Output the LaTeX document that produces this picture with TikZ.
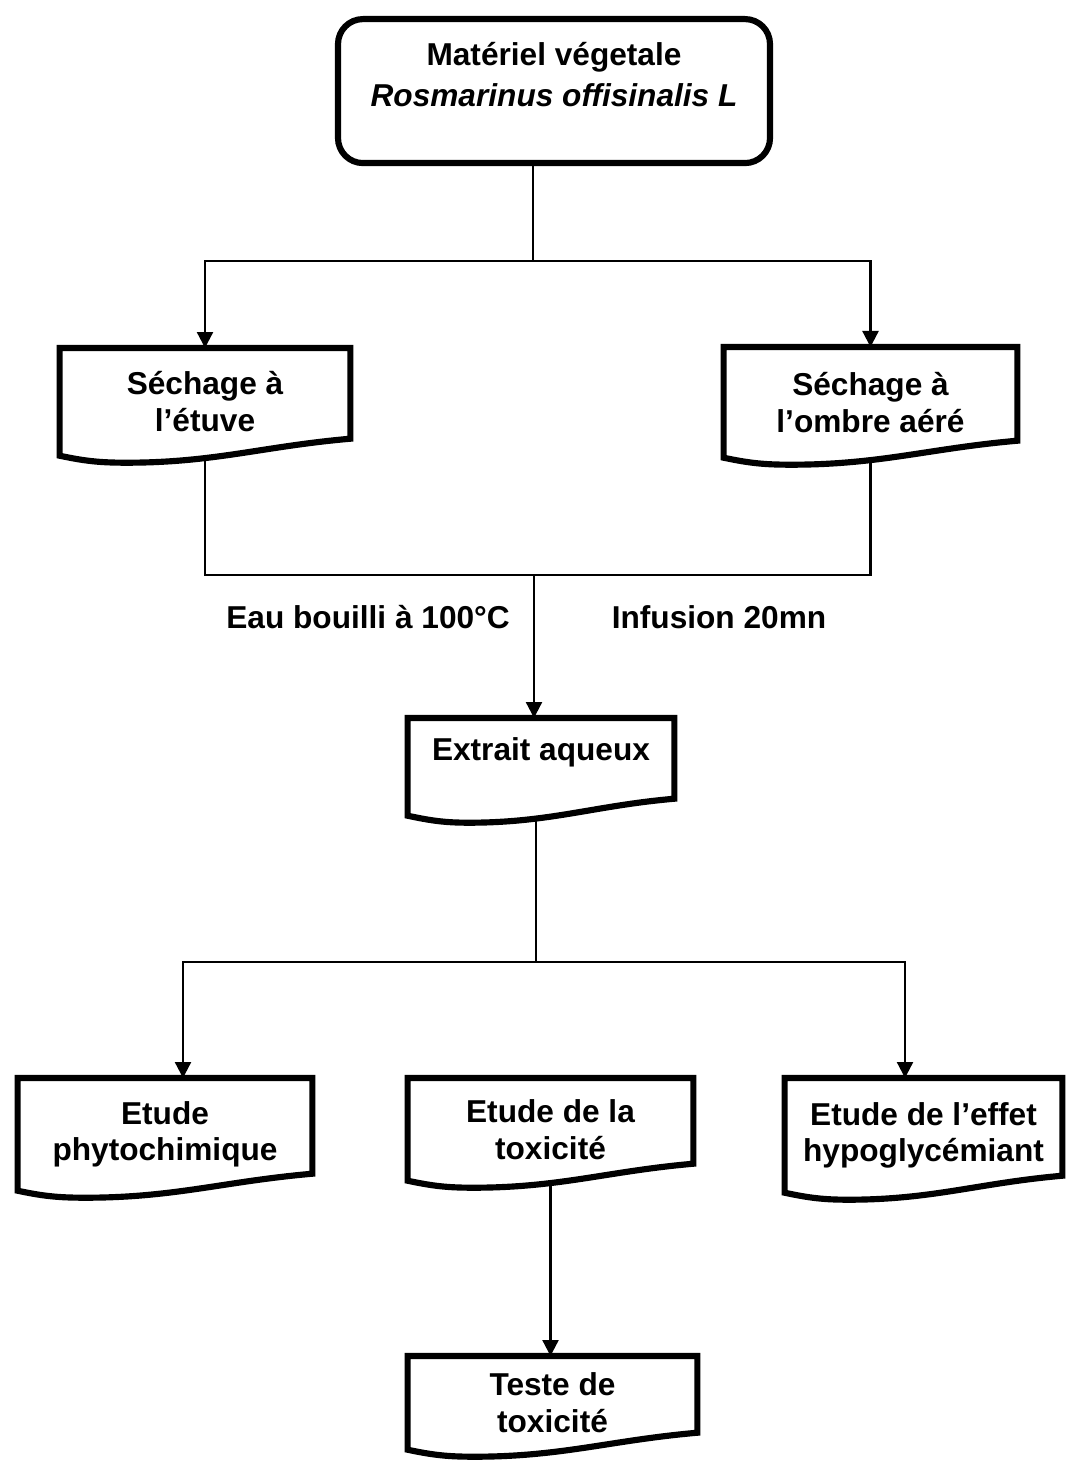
\documentclass[tikz,border=0pt]{standalone}
\usepackage{fontspec}
\setmainfont{Liberation Sans}
\usetikzlibrary{arrows.meta,calc}

\begin{document}
\begin{tikzpicture}[
    every node/.style={font=\fontsize{18}{21}\selectfont\bfseries, align=center},
    docbox/.style={anchor=north, inner sep=0pt},
    startbox/.style={draw, line width=3.5pt, rounded corners=0.5cm, anchor=north,
      minimum width=8.64cm, minimum height=2.88cm},
    docline/.style={line width=3.5pt, line join=miter},
    link/.style={line width=1.3pt},
    arrow/.style={link, -{Triangle[length=0.32cm, width=0.32cm]}}
    ]
    \useasboundingbox (0,0) rectangle (21.44,-29.22);

    \node[startbox] (mat) at (11.08,-0.32) {Matériel végetale\\[2pt] \textit{Rosmarinus offisinalis L}\\[-2pt]\mbox{}};
    \node[docbox, minimum width=5.80cm, minimum height=2.14cm] (dry1) at (4.10,-6.96) {Séchage à\\ l’étuve};
    \node[docbox, minimum width=5.86cm, minimum height=2.20cm] (dry2) at (17.41,-6.94) {Séchage à\\ l’ombre aéré};
    \node[docbox, minimum width=5.32cm, minimum height=1.94cm] (aqueux) at (10.82,-14.36) {Extrait aqueux\\[-1pt]\mbox{}};
    \node[docbox, minimum width=5.88cm, minimum height=2.24cm] (phyto) at (3.30,-21.56) {Etude\\ phytochimique};
    \node[docbox, minimum width=5.70cm, minimum height=2.04cm] (toxic) at (11.01,-21.56) {Etude de la\\ toxicité};
    \node[docbox, minimum width=5.54cm, minimum height=2.28cm] (hypo) at (18.47,-21.56) {Etude de l’effet\\ hypoglycémiant};
    \node[docbox, minimum width=5.78cm, minimum height=1.86cm] (teste) at (11.05,-27.12) {Teste de\\ toxicité};

    % wavy bottom of the document boxes
    \foreach \b in {dry1,dry2,aqueux,phyto,toxic,hypo,teste}
      \draw[docline] (\b.north west) -- (\b.north east) -- ([yshift=0.34cm]\b.south east)
        to[out=185,in=0] ($(\b.south west)!0.23!(\b.south east)+(0,-0.14)$)
        to[out=180,in=-12] (\b.south west) -- cycle;

    \coordinate (fork1) at (10.66,-5.22);
    \coordinate (fork2) at (10.68,-11.5);
    \coordinate (fork3) at (10.72,-19.24);

    \draw[link] (mat.south -| fork1) -- (fork1);
    \draw[arrow] (fork1) -| (dry1.north);
    \draw[arrow] (fork1) -| (dry2.north);
    \draw[link] (dry1.south) |- (fork2);
    \draw[link] (dry2.south) |- (fork2);
    \draw[arrow] (fork2) -- (fork2 |- aqueux.north);
    \draw[link] (aqueux.south -| fork3) -- (fork3);
    \draw[arrow] (fork3) -| ([xshift=0.36cm]phyto.north);
    \draw[arrow] (fork3) -| ([xshift=-0.37cm]hypo.north);
    \draw[arrow] (toxic.south) -- (toxic.south |- teste.north);

    \node (eau) at (7.36,-12.34) {Eau bouilli à 100°C};
    \node (infusion) at (14.38,-12.34) {Infusion 20mn};
  \end{tikzpicture}
\end{document}
